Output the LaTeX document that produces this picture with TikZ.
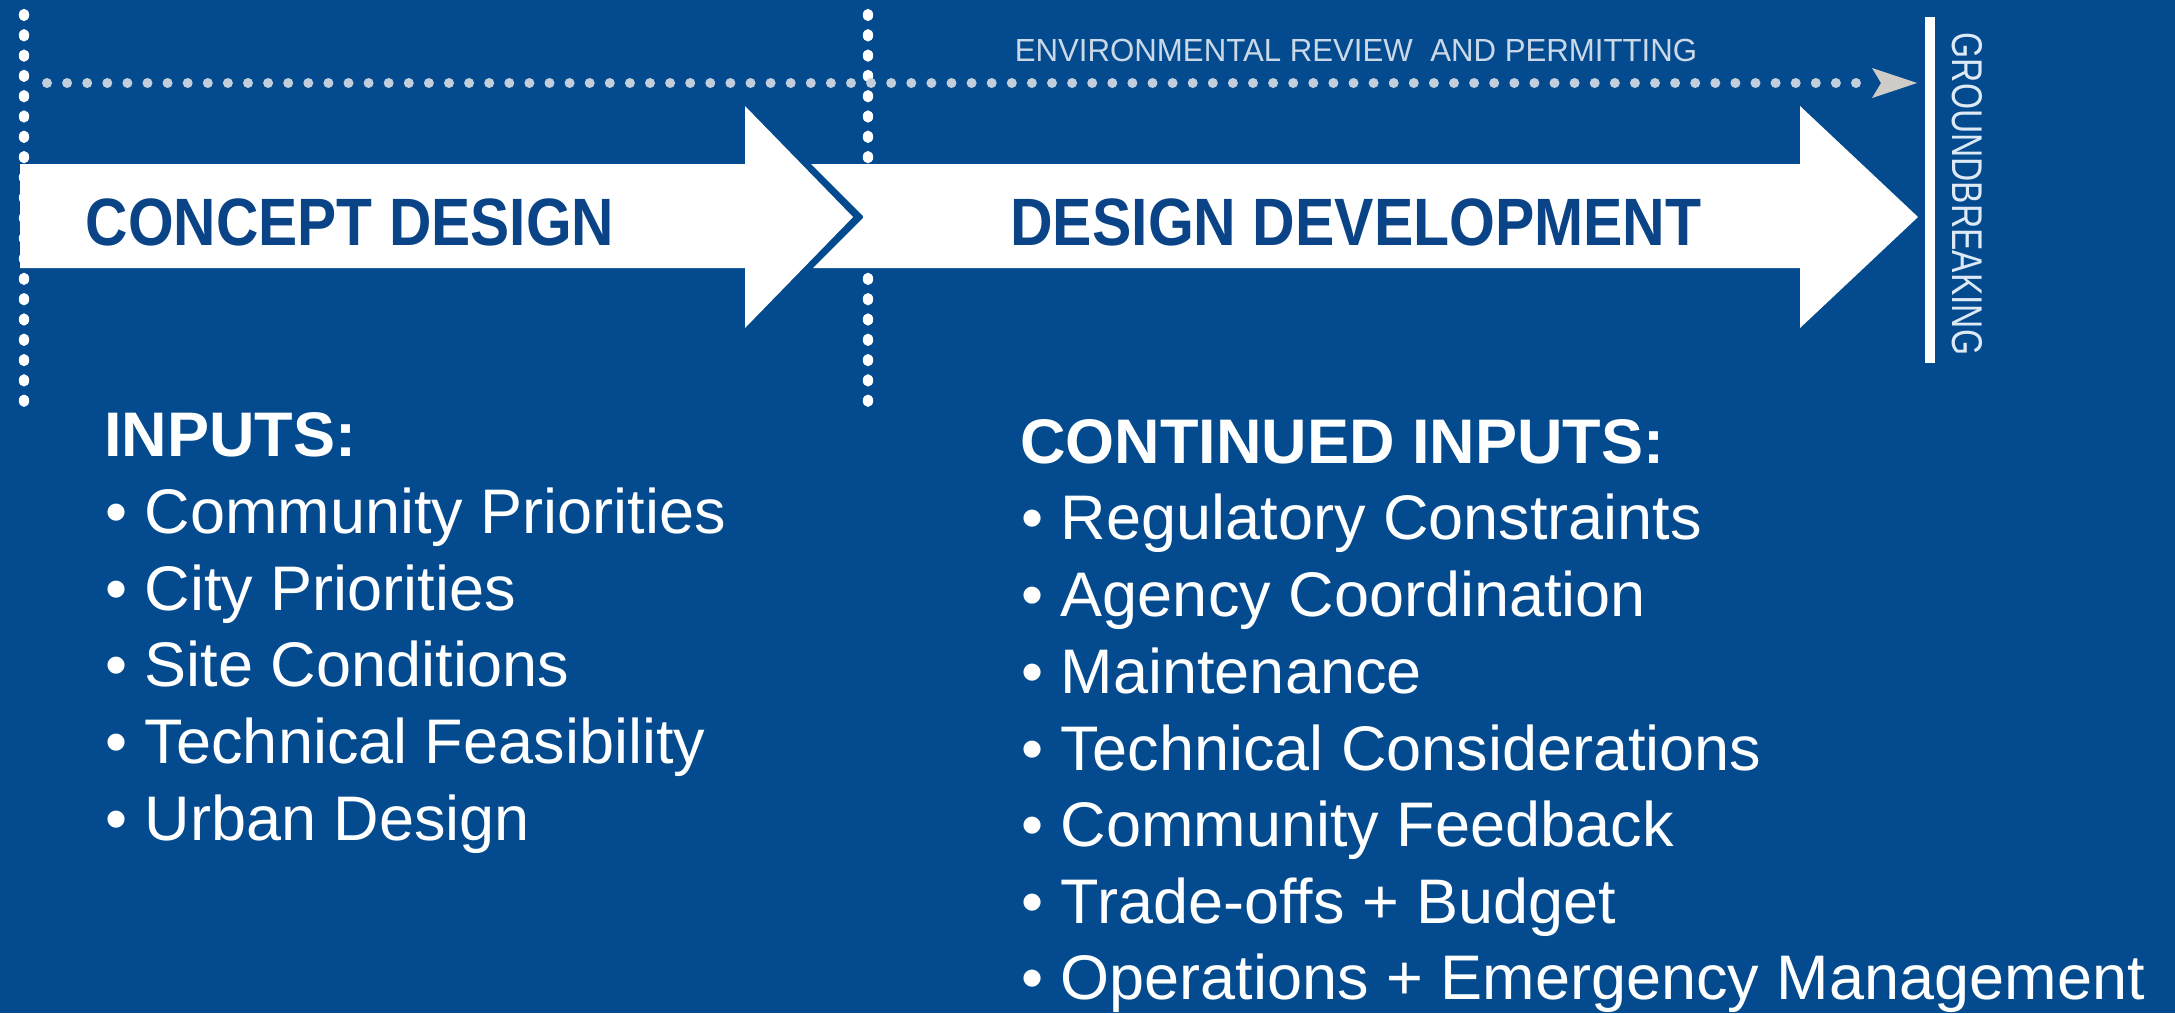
\documentclass[tikz,border=0pt]{standalone}
\usepackage{fontspec}
\setmainfont{Liberation Sans}
\usetikzlibrary{calc}
\definecolor{bgblue}{HTML}{034B8E}
\definecolor{darkblue}{HTML}{0A4487}
\definecolor{dotgray}{HTML}{C3CEDC}
\definecolor{headgray}{HTML}{CFCBC6}
\definecolor{lighttext}{HTML}{CAD8E8}
\definecolor{gbtext}{HTML}{DDEAF6}
\begin{document}
\begin{tikzpicture}[x=0.5pt,y=-0.5pt,
  vdot/.style={fill=white},
  hdot/.style={fill=dotgray},
  bigarrow/.style={fill=white},
  phase/.style={font=\bfseries\fontsize{33.5}{36}\selectfont, text=darkblue, inner sep=0pt, anchor=base},
  listitem/.style={font=\fontsize{31.5}{36}\selectfont, text=white, inner sep=0pt, anchor=base west},
  listhead/.style={font=\bfseries\fontsize{31.5}{36}\selectfont, text=white, inner sep=0pt, anchor=base west}]
% background
\fill[bgblue] (0,0) rectangle (2175,1013);
\useasboundingbox (0,0) rectangle (2175,1013);
% vertical dotted lines
\foreach \k in {0,...,19} {
  \fill[vdot] (24,{15+20.3*\k}) ellipse [x radius=5.2, y radius=6.2];
  \fill[vdot] (868,{15+20.3*\k}) ellipse [x radius=5.2, y radius=6.2];
}
% horizontal dotted line with arrowhead
\coordinate (hstart) at (47,83);
\coordinate (htip) at (1917,83);
\foreach \k in {0,...,90} {
  \fill[hdot] ($(hstart)+({20.1*\k},0)$) circle [radius=5];
}
\fill[headgray] (1872,68) -- (htip) -- (1872,98) -- (1881,83) -- cycle;
% main arrows
\fill[bigarrow] (20,164) -- (745,164) -- (745,106) -- (853,217) -- (745,328) -- (745,268) -- (20,268) -- cycle;
\fill[bigarrow] (811,164) -- (1800,164) -- (1800,106) -- (1918,217) -- (1800,328) -- (1800,268) -- (813,268) -- (864,217) -- cycle;
% groundbreaking bar
\fill[white] (1925,17) rectangle (1935,363);
\node[rotate=-90, inner sep=0pt, text=gbtext, font=\fontsize{21.5}{24}\selectfont] (gb) at (1967,194) {\scalebox{0.78}[1]{GROUNDBREAKING}};
% phase labels
\node[phase] (concept) at (350,245) {\scalebox{0.876}[1]{CONCEPT DESIGN}};
\node[phase] (devel) at (1356,245) {\scalebox{0.88}[1]{DESIGN DEVELOPMENT}};
\node[inner sep=0pt, anchor=base, text=lighttext, font=\fontsize{16}{18}\selectfont] (env) at (1356,61) {\scalebox{0.975}[1]{ENVIRONMENTAL REVIEW~~AND PERMITTING}};
% left list
\node[listhead] (inputs) at (104,456) {INPUTS:};
\node[listitem] (l1) at (105,533) {• Community Priorities};
\node[listitem] (l2) at (105,610) {• City Priorities};
\node[listitem] (l3) at (105,686) {• Site Conditions};
\node[listitem] (l4) at (105,763) {• Technical Feasibility};
\node[listitem] (l5) at (105,840) {• Urban Design};
% right list
\node[listhead] (cinputs) at (1020,463) {CONTINUED INPUTS:};
\node[listitem] (r1) at (1021,539) {• Regulatory Constraints};
\node[listitem] (r2) at (1021,616) {• Agency Coordination};
\node[listitem] (r3) at (1021,693) {• Maintenance};
\node[listitem] (r4) at (1021,770) {• Technical Considerations};
\node[listitem] (r5) at (1021,846) {• Community Feedback};
\node[listitem] (r6) at (1021,923) {• Trade-offs + Budget};
\node[listitem] (r7) at (1021,999) {• Operations + Emergency Management};
\end{tikzpicture}
\end{document}
